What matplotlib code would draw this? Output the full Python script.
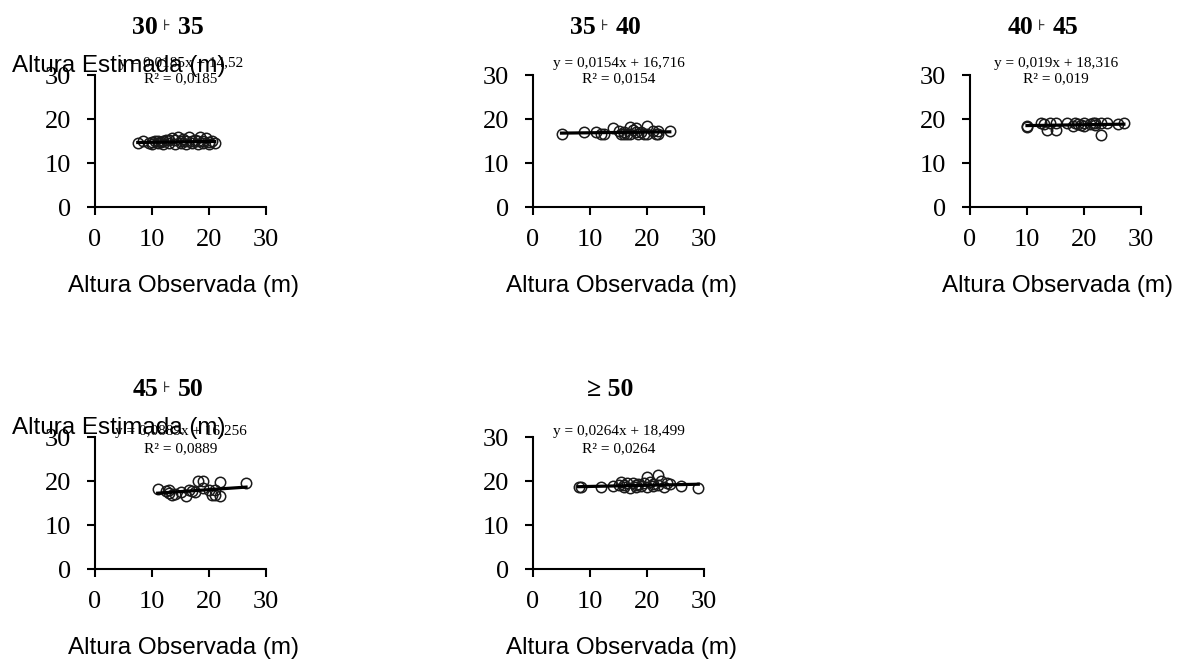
import matplotlib
matplotlib.use("Agg")
import matplotlib.pyplot as plt

# classes de DAP (limite inferior, simbolo, limite superior)
titles_left = ["30", "35", "40", "45", ""]
titles_sym = ["\u22a6", "\u22a6", "\u22a6", "\u22a6", ""]
titles_right = ["35", "40", "45", "50", "\u2265 50"]

obs_1 = [7.5, 8.5, 9.5, 10, 10.5, 11, 11.5, 12, 12.5, 13, 13.5, 14, 14.5, 15, 15.5, 16, 16.5, 17, 17.5, 18,
         18.5, 19, 19.5, 20, 20.5, 21, 13, 15, 17, 19, 11, 14, 16, 18, 20, 12, 10]
est_1 = [14.5, 15.0, 14.6, 14.3, 15.0, 14.5, 14.8, 14.4, 15.2, 14.5, 15.6, 14.4, 15.8, 14.5, 15.5, 14.4, 15.8, 14.6, 15.2, 14.4,
         15.9, 14.5, 15.6, 14.8, 15.0, 14.6, 15.2, 15.0, 15.0, 15.0, 14.9, 15.2, 15.1, 14.9, 14.4, 14.9, 14.8]

obs_2 = [5, 9, 11, 12, 12.5, 14, 15, 15.5, 16, 16.5, 17, 17, 17.5, 18, 18.5, 19, 19.5, 20, 20, 21, 21.5, 22, 22, 24, 16, 18]
est_2 = [16.7, 17.0, 17.0, 16.6, 16.6, 18.0, 17.2, 16.6, 17.0, 16.7, 18.2, 16.5, 17.4, 18.0, 16.6, 17.0, 16.6, 18.4, 16.5, 17.3, 16.6, 17.2, 16.6, 17.3, 16.5, 17.0]

obs_3 = [10, 10, 12.5, 13, 13.5, 14, 15, 15, 17, 18, 18.5, 19.5, 20, 20, 21, 22, 22, 23, 23, 24, 26, 27, 19, 21.5]
est_3 = [18.5, 18.2, 19.0, 18.8, 17.5, 19.0, 17.6, 19.1, 19.0, 18.5, 19.1, 18.6, 19.2, 18.4, 18.9, 19.1, 18.6, 16.4, 19.0, 19.0, 18.9, 19.1, 18.8, 19.0]

obs_4 = [11, 12.5, 13, 13.5, 14, 15, 16, 16.5, 17, 18, 19, 19, 20, 20.5, 21, 21, 22, 22, 26.5, 13, 17.5]
est_4 = [18.1, 17.8, 18.0, 16.8, 17.0, 17.6, 16.7, 18.0, 17.8, 20.0, 20.0, 18.3, 18.0, 16.8, 16.8, 18.0, 19.7, 16.7, 19.6, 17.3, 17.5]

obs_5 = [8, 8.5, 12, 14, 15, 15.5, 16, 16.5, 17, 17.5, 18, 18.5, 19, 19.5, 20, 20, 20.5, 21, 22, 22, 22.5, 23, 23.5, 24, 26, 29, 16, 18, 21]
est_5 = [18.7, 18.6, 18.7, 18.9, 19.2, 19.8, 18.6, 19.5, 18.5, 19.6, 18.6, 19.3, 18.8, 19.6, 21.0, 18.6, 19.8, 18.8, 21.3, 19.0, 19.9, 18.7, 19.6, 19.4, 18.9, 18.5, 19.0, 19.1, 19.4]

slopes = [0.0185, 0.0154, 0.019, 0.0889, 0.0264]
intercepts = [14.52, 16.716, 18.316, 16.256, 18.499]
r2 = ["0,0185", "0,0154", "0,019", "0,0889", "0,0264"]
eq_txt = ["y = 0,0185x + 14,52", "y = 0,0154x + 16,716", "y = 0,019x + 18,316",
          "y = 0,0889x + 16,256", "y = 0,0264x + 18,499"]

obs = [obs_1, obs_2, obs_3, obs_4, obs_5]
est = [est_1, est_2, est_3, est_4, est_5]

W, H = 1179, 659
fig = plt.figure(figsize=(W / 100, H / 100), dpi=100)

lefts = [95, 533, 970, 95, 533]
bottoms = [207, 207, 207, 569, 569]
serif = ["Liberation Serif", "DejaVu Sans"]
sans = ["Liberation Sans"]

for i in range(5):
    l, b = lefts[i], bottoms[i]
    ax = fig.add_axes([l / W, 1 - b / H, 171 / W, 132 / H])
    ax.plot(obs[i], est[i], "o", ms=7.5, mfc="none", mec="#1a1a1a", mew=1.1, zorder=2)
    x0, x1 = min(obs[i]), max(obs[i])
    ax.plot([x0, x1], [slopes[i] * x0 + intercepts[i], slopes[i] * x1 + intercepts[i]],
            color="black", lw=2.3, zorder=3)
    ax.set_xlim(0, 30)
    ax.set_ylim(0, 30)
    ax.set_xticks([0, 10, 20, 30])
    ax.set_yticks([0, 10, 20, 30])
    for s in ["top", "right"]:
        ax.spines[s].set_visible(False)
    for s in ["left", "bottom"]:
        ax.spines[s].set_linewidth(1.5)
    ax.tick_params(direction="out", length=6, width=1.5, labelsize=19)
    ax.tick_params(axis="x", pad=10)
    ax.tick_params(axis="y", pad=11)
    for lab in ax.get_xticklabels() + ax.get_yticklabels():
        lab.set_family(serif)
    ax.patch.set_alpha(0)

    cx = l + 86
    top = b - 132
    ty = 1 - (top - 48) / H
    # titulo
    if titles_sym[i]:
        sx = cx - 14
        fig.text(sx / W, ty, titles_sym[i], ha="center", va="center", fontsize=10.5, family=serif)
        fig.text((sx - 9) / W, ty, titles_left[i], ha="right", va="center",
                 fontsize=18.5, fontweight="bold", family=serif)
        fig.text((sx + 11) / W, ty, titles_right[i], ha="left", va="center",
                 fontsize=18.5, fontweight="bold", family=serif)
    else:
        fig.text((cx - 9) / W, ty, titles_right[i], ha="center", va="center",
                 fontsize=18.5, fontweight="bold", family=serif)
    # equacao da reta
    if b == 207:
        ey, ry = top - 11, top + 4
    else:
        ey, ry = top - 5, top + 12
    fig.text(cx / W, 1 - ey / H, eq_txt[i], ha="center", va="center", fontsize=11, family=serif)
    fig.text(cx / W, 1 - ry / H, "R\u00b2 = " + r2[i], ha="center", va="center", fontsize=11, family=serif)
    # eixo x
    fig.text((cx + 2) / W, 1 - (b + 79) / H, "Altura Observada (m)", ha="center", va="center",
             fontsize=17.5, family=sans)
    if l == 95:
        fig.text(12 / W, 1 - (top - 9) / H, "Altura Estimada (m)", ha="left", va="center",
                 fontsize=17.5, family=sans)

fig.savefig("out.png", dpi=100)
